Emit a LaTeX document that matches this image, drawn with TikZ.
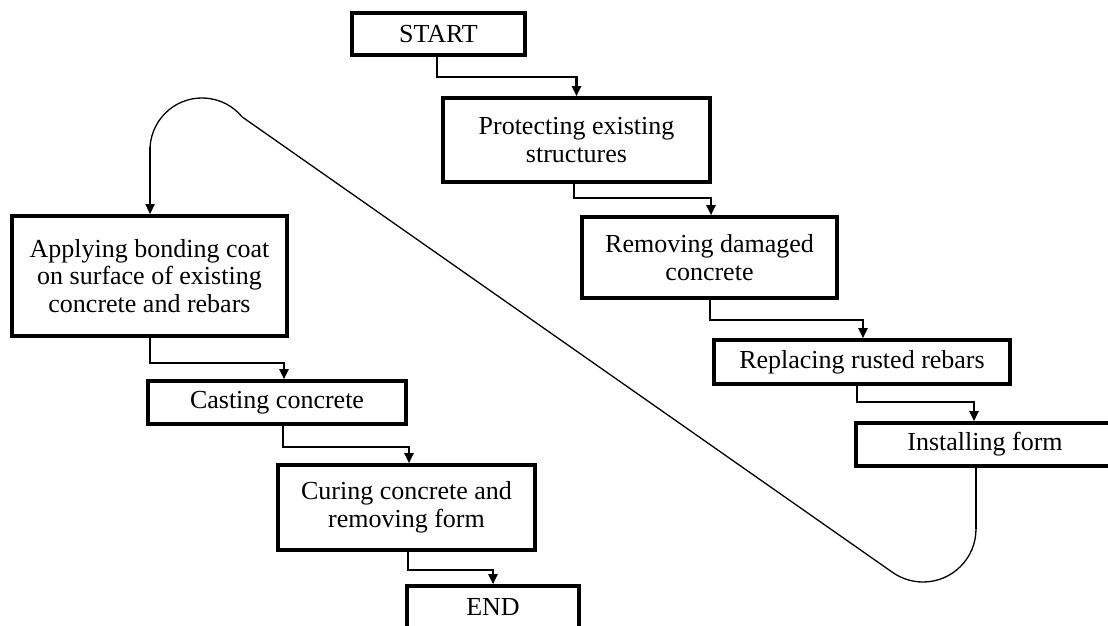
\documentclass[tikz,border=0pt]{standalone}
\usepackage{fontspec}
\setmainfont{Liberation Serif}
\usetikzlibrary{arrows.meta}
\begin{document}
\begin{tikzpicture}[x=1pt,y=-1pt,
  box/.style={draw, rectangle, line width=3.6pt, inner sep=0pt, align=center,
    font=\fontsize{26}{27.5}\selectfont},
  conn/.style={line width=2.2pt, -{Triangle[length=10pt,width=9pt]}},
  connplain/.style={line width=2.2pt},
  loopline/.style={line width=1.3pt},
  looparrow/.style={line width=1.5pt, -{Triangle[length=10pt,width=9pt]}}]
\useasboundingbox (0,0) rectangle (1108,625);
\clip (0,0) rectangle (1108,625);
\node[box, minimum width=173pt, minimum height=42pt] (start) at (438.5,34) {START};
\node[box, minimum width=267pt, minimum height=84pt] (prot) at (576.5,140) {Protecting existing\\structures};
\node[box, minimum width=255pt, minimum height=81pt] (rem) at (709.5,257.5) {Removing damaged\\concrete};
\node[box, minimum width=296pt, minimum height=44pt] (rep) at (862,362) {Replacing rusted rebars};
\node[box, minimum width=258pt, minimum height=43pt] (inst) at (985,444.5) {Installing form};
\node[box, minimum width=275pt, minimum height=120pt] (app) at (149.5,276) {Applying bonding coat\\on surface of existing\\concrete and rebars};
\node[box, minimum width=258pt, minimum height=43pt] (cast) at (277,402.5) {Casting concrete};
\node[box, minimum width=257pt, minimum height=85pt] (cur) at (406.5,507.5) {Curing concrete and\\removing form};
\node[box, minimum width=172pt, minimum height=42pt] (end) at (493,607) {END};

\draw[conn] ([xshift=-1.5pt]start.south) -- ++(0,20) -| (prot.north);
\draw[conn] ([xshift=-2.5pt]prot.south) -- ++(0,14) -| ([xshift=1.5pt]rem.north);
\draw[conn] ([xshift=0.5pt]rem.south) -- ++(0,20) -| ([xshift=1pt]rep.north);
\draw[conn] ([xshift=-5pt]rep.south) -- ++(0,16) -| ([xshift=-11pt]inst.north);
\draw[conn] ([xshift=0.5pt]app.south) -- ++(0,25) -| ([xshift=7pt]cast.north);
\draw[conn] ([xshift=6pt]cast.south) -- ++(0,21) -| ([xshift=2.5pt]cur.north);
\draw[conn] ([xshift=1.5pt]cur.south) -- ++(0,18) -| (end.north);

\coordinate (c1) at (976,529);
\coordinate (c2) at (242.1,116.9);
\draw[connplain] ([xshift=-9pt]inst.south) -- (c1);
\draw[loopline] (c1) arc[start angle=0, end angle=125, radius=53] -- (c2)
  arc[start angle=-39.5, end angle=-177, radius=52] coordinate (lp);
\draw[looparrow] (lp) -- (lp |- app.north);
\end{tikzpicture}
\end{document}
